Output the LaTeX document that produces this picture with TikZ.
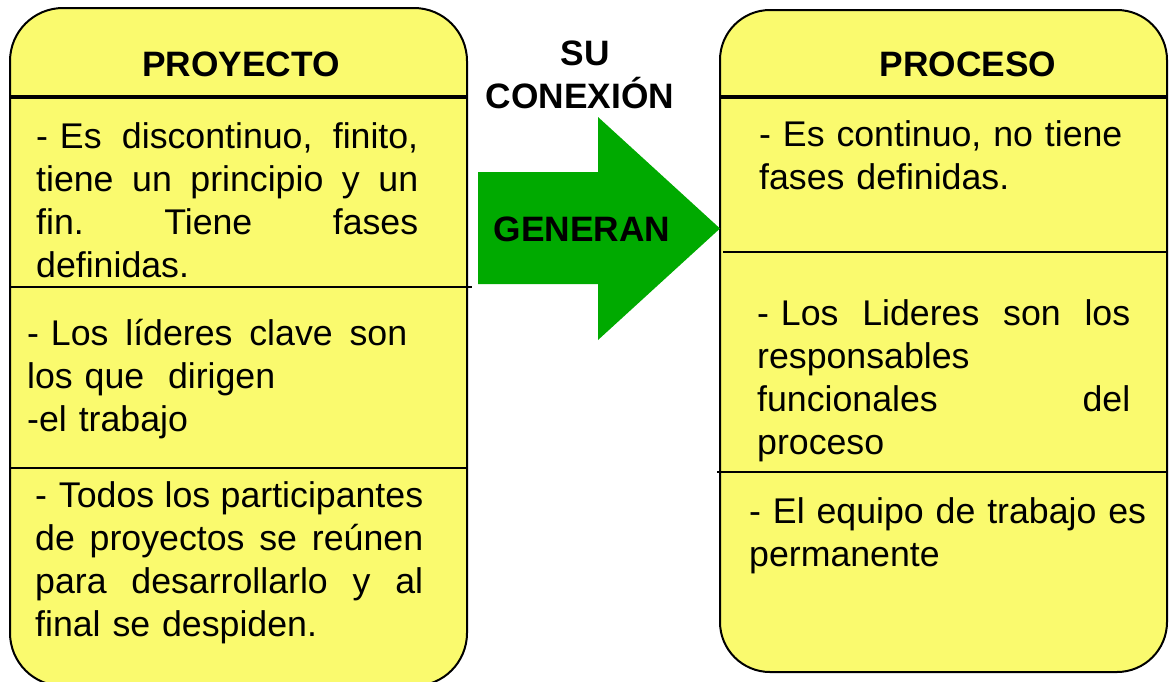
\documentclass[tikz,border=0pt]{standalone}
\usepackage{fontspec}
\setmainfont{Liberation Sans}
\definecolor{boxyellow}{RGB}{250,250,110}
\definecolor{arrowgreen}{RGB}{0,170,0}
\begin{document}
\begin{tikzpicture}[x=1pt,y=-1pt,
  panel/.style={fill=boxyellow,draw=black,line width=2pt,rounded corners=53pt},
  rulethin/.style={line width=2.2pt},
  headrule/.style={line width=4pt},
  body/.style={font=\fontsize{35.7}{43}\selectfont, inner sep=0pt, anchor=base west, text width=430pt, align=left},
  title/.style={font=\bfseries\fontsize{35.3}{43}\selectfont, inner sep=0pt, anchor=base}]
\useasboundingbox (0,0) rectangle (1170,681);
\clip (0,0) rectangle (1170,681);
% panels
\draw[panel] (10,8) rectangle (467,686);
\draw[panel, rounded corners=50pt] (720,10) rectangle (1167,672);
% dividers
\draw[headrule] (10,97) -- (467,97);
\draw[rulethin] (10,287) -- (472,287);
\draw[rulethin] (10,468) -- (467,468);
\draw[headrule] (720,97) -- (1167,97);
\draw[rulethin] (723,252) -- (1167,252);
\draw[rulethin] (717,472) -- (1167,472);
% arrow
\fill[arrowgreen] (478,172) -- (598,172) -- (598,117) -- (720,228.5) -- (598,340) -- (598,284) -- (478,284) -- cycle;
% titles
\node[title] (t1) at (241,76) {PROYECTO};
\node[title] (t2) at (968,76) {PROCESO};
\node[title] (su) at (585,65) {SU};
\node[title] (cx) at (580,108) {CONEXIÓN};
\node[title] (gen) at (582,241) {GENERAN};
% left texts
\node[body] (p1) at (36,148) {\makebox[382pt]{- Es\hfill discontinuo,\hfill finito,}\\
  \makebox[382pt]{tiene\hfill un\hfill principio\hfill y\hfill un}\\
  \makebox[382pt]{fin.\hfill Tiene\hfill fases}\\
  definidas.};
\node[body] (p2) at (27,345) {\makebox[380pt]{- Los\hfill líderes\hfill clave\hfill son}\\
  los que\ \ dirigen\\
  -el trabajo};
\node[body] (p3) at (35,507) {\makebox[388pt]{- Todos\hfill los\hfill participantes}\\
  \makebox[388pt]{de\hfill proyectos\hfill se\hfill reúnen}\\
  \makebox[388pt]{para\hfill desarrollarlo\hfill y\hfill al}\\
  final se despiden.};
% right texts
\node[body] (q1) at (759,146) {- Es continuo, no tiene\\
  fases definidas.};
\node[body] (q2) at (757,325) {\makebox[373pt]{- Los\hfill Lideres\hfill son\hfill los}\\
  responsables\\
  \makebox[373pt]{funcionales\hfill del}\\
  proceso};
\node[body] (q3) at (749,523) {- El equipo de trabajo es\\
  permanente};
\end{tikzpicture}
\end{document}
